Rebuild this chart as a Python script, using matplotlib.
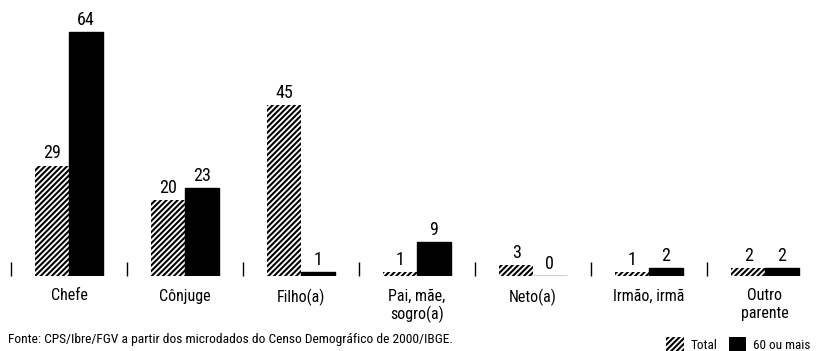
import matplotlib.pyplot as plt
from matplotlib.patches import Patch
import numpy as np

# Dados
categorias = ['Chefe', 'Cônjuge', 'Filho(a)', 'Pai, mãe,\nsogro(a)', 'Neto(a)', 'Irmão, irmã', 'Outro\nparente']
total = [29, 20, 45, 1, 3, 1, 2]
idosos = [64, 23, 1, 9, 0, 2, 2]

plt.rcParams['font.family'] = ['Roboto Condensed', 'DejaVu Sans']
plt.rcParams['hatch.linewidth'] = 1.5

fig = plt.figure(figsize=(8.18, 3.51), dpi=100)
ax = fig.add_axes([11 / 818, 75 / 351, 812 / 818, 259 / 351])

x = np.arange(len(categorias))
w = 0.29
b1 = ax.bar(x - w / 2, total, w, color='white', edgecolor='black', hatch='//////', linewidth=0)
b2 = ax.bar(x + w / 2, idosos, w, color='black', edgecolor='black', linewidth=1)

for rect, v in zip(b1, total):
    ax.text(rect.get_x() + rect.get_width() / 2, v + 0.8, str(v), ha='center', va='bottom', fontsize=13)
for rect, v in zip(b2, idosos):
    ax.text(rect.get_x() + rect.get_width() / 2, v + 0.8, str(v), ha='center', va='bottom', fontsize=13)

ax.set_xlim(-0.5, len(categorias) - 0.5)
ax.set_ylim(0, 68)
ax.set_xticks(x)
ax.set_xticklabels(categorias, fontsize=11.5, linespacing=1.2)
ax.set_xticks(x - 0.5, minor=True)
ax.tick_params(axis='x', which='major', length=0, pad=9)
ax.tick_params(axis='x', which='minor', direction='in', length=10, width=1)
ax.set_yticks([])
for s in ax.spines.values():
    s.set_visible(False)

fig.text(8 / 818, 5 / 351, 'Fonte: CPS/Ibre/FGV a partir dos microdados do Censo Demográfico de 2000/IBGE.',
         fontsize=9.7, ha='left', va='bottom')

handles = [Patch(facecolor='white', edgecolor='black', hatch='//////', linewidth=0, label='Total'),
           Patch(facecolor='black', label='60 ou mais')]
fig.legend(handles=handles, loc='lower right', bbox_to_anchor=(1.0, -0.025), ncol=2, frameon=False,
           handlelength=1.3, handleheight=1.3, handletextpad=0.5, columnspacing=0.9, fontsize=9.5,
           borderaxespad=0.2)

fig.savefig('out.png', dpi=100)
